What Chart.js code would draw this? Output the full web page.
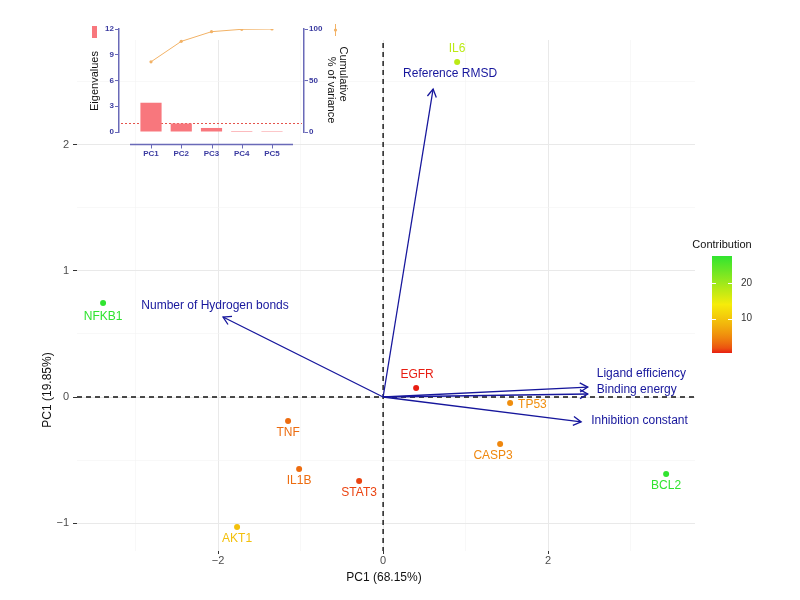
<!DOCTYPE html>
<html><head><meta charset="utf-8">
<script src="https://cdn.jsdelivr.net/npm/chart.js@4"></script>
<style>
html,body{margin:0;padding:0;background:#fff;}
#wrap{position:relative;width:800px;height:600px;overflow:hidden;}
#main{position:absolute;left:0;top:0;}
#inset{position:absolute;left:0;top:0;}
</style></head><body>
<div id="wrap"><canvas id="main" width="800" height="600"></canvas><canvas id="inset" width="360" height="170"></canvas></div>
<script>
// ---------- data: individuals (genes) ----------
const genes = ['IL6','NFKB1','EGFR','TP53','CASP3','BCL2','AKT1','TNF','IL1B','STAT3'];
const geneX = [0.897,-3.394,0.400,1.539,1.418,3.430,-1.770,-1.152,-1.018,-0.291];
const geneY = [2.659,0.746,0.071,-0.048,-0.373,-0.611,-1.032,-0.190,-0.571,-0.667];
const contribution = [17.9,27.5,0.4,5.3,4.8,27.4,9.5,3.1,3.1,1.2];
// ---------- data: variables (arrows) ----------
const variables = ['Reference RMSD','Number of Hydrogen bonds','Ligand efficiency','Binding energy','Inhibition constant'];
const varX = [0.606,-1.94,2.48,2.48,2.40];
const varY = [2.444,0.635,0.079,0.024,-0.198];
// ---------- ticks ----------
const xMajorTicks = [-2,0,2];
const xMinorTicks = [-3,-1,1,3];
const yMajorTicks = [-1,0,1,2];
const yMinorTicks = [-0.5,0.5,1.5,2.5];
const contributionTicks = [10,20];
const xTitle = 'PC1 (68.15%)';
const yTitle = 'PC1 (19.85%)';
const legendTitle = 'Contribution';
// ---------- data: scree inset ----------
const pcs = ['PC1','PC2','PC3','PC4','PC5'];
const eigenvalues = [3.41,0.99,0.47,0.12,0.01];
const cumulativeVariance = [68.15,88.0,97.4,99.7,100];
const eigenTicks = [0,3,6,9,12];
const cumulativeTicks = [0,50,100];
const kaiserLevel = 1;

// ---------- styles ----------
const F = '"Liberation Sans", Arial, Helvetica, sans-serif';
const NAVY = '#16169c';
const INSET_TXT = '#3a3aa0';
const INSET_AXIS = '#6a6ab8';
const lowC = [232,30,18], midC = [246,236,10], highC = [48,228,48];
const cMin = Math.min(...contribution), cMax = Math.max(...contribution);
function mix(a,b,t){return a.map((v,i)=>Math.round(v+(b[i]-v)*t));}
function colorAt(t){
  const c = t<0.5 ? mix(lowC,midC,Math.pow(t/0.5,0.6)) : mix(midC,highC,(t-0.5)/0.5);
  return 'rgb('+c.join(',')+')';
}
const gradColor = v => colorAt((v-cMin)/(cMax-cMin));
const pointColors = contribution.map(gradColor);
// label placement (pixel offsets, style only)
const geneLabelPlace = [[0,-13,'center'],[0,14,'center'],[1,-13,'center'],[8,2,'left'],[-7,12,'center'],[0,12,'center'],[0,12,'center'],[0,12,'center'],[0,12,'center'],[0,12,'center']];
const varLabelPlace = [[17,-15,'center'],[-8,-11,'center'],[9,-13,'left'],[9,-4,'left'],[10,-1,'left']];

const fmt = v => v<0 ? '\u2212'+Math.abs(v) : String(v);

function drawArrow(ctx,x0,y0,x1,y1){
  ctx.beginPath(); ctx.moveTo(x0,y0); ctx.lineTo(x1,y1); ctx.stroke();
  const a=Math.atan2(y1-y0,x1-x0), L=9, th=Math.PI/6;
  ctx.beginPath();
  ctx.moveTo(x1-L*Math.cos(a-th), y1-L*Math.sin(a-th));
  ctx.lineTo(x1,y1);
  ctx.lineTo(x1-L*Math.cos(a+th), y1-L*Math.sin(a+th));
  ctx.stroke();
}

const mainPlugin = {
  id:'biplot',
  beforeDatasetsDraw(chart){
    const {ctx, chartArea:a, scales:{x,y}} = chart;
    ctx.save();
    ctx.strokeStyle='#111'; ctx.lineWidth=1.4; ctx.setLineDash([5,4]);
    const y0=y.getPixelForValue(0), x0=x.getPixelForValue(0);
    ctx.beginPath(); ctx.moveTo(a.left,y0); ctx.lineTo(a.right,y0); ctx.stroke();
    ctx.beginPath(); ctx.moveTo(x0,a.top+3); ctx.lineTo(x0,a.bottom); ctx.stroke();
    ctx.restore();
  },
  afterDatasetsDraw(chart){
    const {ctx, chartArea:a, scales:{x,y}} = chart;
    ctx.save();
    const ox=x.getPixelForValue(0), oy=y.getPixelForValue(0);
    ctx.strokeStyle=NAVY; ctx.lineWidth=1.3; ctx.setLineDash([]);
    variables.forEach((v,i)=>{
      const tx=x.getPixelForValue(varX[i]), ty=y.getPixelForValue(varY[i]);
      drawArrow(ctx,ox,oy,tx,ty);
    });
    ctx.font='12px '+F; ctx.textBaseline='middle'; ctx.fillStyle=NAVY;
    variables.forEach((v,i)=>{
      const tx=x.getPixelForValue(varX[i]), ty=y.getPixelForValue(varY[i]);
      const p=varLabelPlace[i];
      ctx.textAlign=p[2]; ctx.fillText(v,tx+p[0],ty+p[1]);
    });
    genes.forEach((g,i)=>{
      const px=x.getPixelForValue(geneX[i]), py=y.getPixelForValue(geneY[i]);
      const p=geneLabelPlace[i];
      ctx.fillStyle=pointColors[i]; ctx.textAlign=p[2];
      ctx.fillText(g,px+p[0],py+p[1]);
    });
    ctx.fillStyle='#111'; ctx.font='12px '+F; ctx.textAlign='center';
    ctx.fillText(xTitle,384,578);
    ctx.save(); ctx.translate(48,390); ctx.rotate(-Math.PI/2); ctx.fillText(yTitle,0,0); ctx.restore();
    const bx=712,bw=20,bTop=256,bBot=353;
    const g=ctx.createLinearGradient(0,bBot,0,bTop);
    for(let k=0;k<=20;k++){ g.addColorStop(k/20, colorAt(k/20)); }
    ctx.fillStyle=g; ctx.fillRect(bx,bTop,bw,bBot-bTop);
    const cy = v => bBot-(v-cMin)/(cMax-cMin)*(bBot-bTop);
    ctx.strokeStyle='#fff'; ctx.lineWidth=1;
    ctx.font='10px '+F; ctx.fillStyle='#333'; ctx.textAlign='left'; ctx.textBaseline='middle';
    contributionTicks.forEach(t=>{
      const yy=Math.round(cy(t))+0.5;
      ctx.beginPath(); ctx.moveTo(bx,yy); ctx.lineTo(bx+4,yy); ctx.moveTo(bx+bw-4,yy); ctx.lineTo(bx+bw,yy); ctx.stroke();
      ctx.fillText(String(t),741,cy(t));
    });
    ctx.fillStyle='#111'; ctx.font='11px '+F; ctx.textAlign='center';
    ctx.fillText(legendTitle,722,245);
    ctx.restore();
  }
};

const isMajorX = v => xMajorTicks.includes(v);
const isMajorY = v => yMajorTicks.includes(v);

new Chart(document.getElementById('main'),{
  type:'scatter',
  data:{datasets:[{
    data: genes.map((g,i)=>({x:geneX[i],y:geneY[i]})),
    pointBackgroundColor: pointColors, pointBorderColor: pointColors,
    pointRadius:3, pointBorderWidth:0, showLine:false
  }]},
  options:{
    responsive:false, animation:false, devicePixelRatio:1,
    layout:{padding:{left:0,right:105,top:40,bottom:0}},
    plugins:{legend:{display:false}, tooltip:{enabled:false}},
    scales:{
      x:{type:'linear', min:-3.71, max:3.78,
        afterBuildTicks:s=>{s.ticks=[...xMinorTicks,...xMajorTicks].sort((a,b)=>a-b).map(v=>({value:v}));},
        afterFit:s=>{s.height=49;},
        border:{display:false},
        grid:{color:c=>isMajorX(c.tick.value)?'#e9e9e9':'#f3f3f3', lineWidth:c=>isMajorX(c.tick.value)?1:0.6,
              drawTicks:true, tickLength:3, tickColor:c=>isMajorX(c.tick.value)?'#333':'rgba(0,0,0,0)'},
        ticks:{autoSkip:false, maxRotation:0, padding:0, color:'#4d4d4d', font:{size:11,family:F},
               callback:v=>isMajorX(v)?fmt(v):''}
      },
      y:{type:'linear', min:-1.222, max:2.833,
        afterBuildTicks:s=>{s.ticks=[...yMinorTicks,...yMajorTicks].sort((a,b)=>a-b).map(v=>({value:v}));},
        afterFit:s=>{s.width=77;},
        border:{display:false},
        grid:{color:c=>isMajorY(c.tick.value)?'#e9e9e9':'#f3f3f3', lineWidth:c=>isMajorY(c.tick.value)?1:0.6,
              drawTicks:true, tickLength:4, tickColor:c=>isMajorY(c.tick.value)?'#333':'rgba(0,0,0,0)'},
        ticks:{autoSkip:false, padding:4, color:'#4d4d4d', font:{size:11,family:F},
               callback:v=>isMajorY(v)?fmt(v):''}
      }
    }
  },
  plugins:[mainPlugin]
});

// ---------- inset scree plot ----------
const insetPlugin = {
  id:'scree',
  beforeDatasetsDraw(chart){
    const {ctx, chartArea:a, scales:{y}} = chart;
    ctx.save();
    ctx.strokeStyle='#e5534b'; ctx.lineWidth=1; ctx.setLineDash([2,2]);
    const yy=Math.round(y.getPixelForValue(kaiserLevel))+0.5;
    ctx.beginPath(); ctx.moveTo(a.left+2,yy); ctx.lineTo(a.right-2,yy); ctx.stroke();
    ctx.restore();
  },
  afterDraw(chart){
    const {ctx, chartArea:a, scales:{x}} = chart;
    ctx.save();
    const ay=a.bottom+12.5;
    ctx.strokeStyle=INSET_AXIS; ctx.lineWidth=1.5;
    ctx.beginPath(); ctx.moveTo(130,ay); ctx.lineTo(293,ay); ctx.stroke();
    ctx.lineWidth=1;
    pcs.forEach((p,i)=>{
      const px=Math.round(x.getPixelForValue(i+1))+0.5;
      ctx.beginPath(); ctx.moveTo(px,ay); ctx.lineTo(px,ay+4); ctx.stroke();
    });
    ctx.fillStyle='#f8777d'; ctx.fillRect(92,26,5,12);
    ctx.strokeStyle='#f2b266'; ctx.lineWidth=1;
    ctx.beginPath(); ctx.moveTo(335.5,24); ctx.lineTo(335.5,36); ctx.stroke();
    ctx.fillStyle='#f2b266'; ctx.beginPath(); ctx.arc(335.5,30,1.6,0,Math.PI*2); ctx.fill();
    ctx.fillStyle='#111'; ctx.font='11px '+F; ctx.textAlign='center'; ctx.textBaseline='middle';
    ctx.save(); ctx.translate(95,81); ctx.rotate(-Math.PI/2); ctx.fillText('Eigenvalues',0,0); ctx.restore();
    ctx.save(); ctx.translate(343,74); ctx.rotate(Math.PI/2); ctx.fillText('Cumulative',0,0); ctx.restore();
    ctx.save(); ctx.translate(331,90); ctx.rotate(Math.PI/2); ctx.fillText('% of variance',0,0); ctx.restore();
    ctx.restore();
  }
};

new Chart(document.getElementById('inset'),{
  type:'bar',
  data:{datasets:[
    {type:'line', data: pcs.map((p,i)=>({x:i+1,y:cumulativeVariance[i]})), yAxisID:'y2',
     borderColor:'#f2b266', backgroundColor:'#f2b266', borderWidth:1, pointRadius:1.6, pointBorderWidth:0, order:0},
    {type:'bar', data: pcs.map((p,i)=>({x:i+1,y:eigenvalues[i]})), yAxisID:'y',
     backgroundColor:'#f8777d', barPercentage:0.7, categoryPercentage:1, order:1}
  ]},
  options:{
    responsive:false, animation:false, devicePixelRatio:1,
    layout:{padding:{left:0,right:0,top:29,bottom:0}},
    plugins:{legend:{display:false}, tooltip:{enabled:false}},
    scales:{
      x:{type:'linear', min:-0.058, max:6.058, offset:false,
        afterBuildTicks:s=>{s.ticks=pcs.map((p,i)=>({value:i+1}));},
        afterFit:s=>{s.height=38;},
        grid:{display:false}, border:{display:false},
        ticks:{autoSkip:false, maxRotation:0, padding:9, color:INSET_TXT, font:{size:8,family:F,weight:'bold'},
               callback:v=>pcs[v-1]}
      },
      y:{position:'left', min:0, max:12,
        afterBuildTicks:s=>{s.ticks=eigenTicks.map(v=>({value:v}));},
        afterFit:s=>{s.width=119;},
        grid:{drawOnChartArea:false, drawTicks:true, tickLength:4, tickColor:INSET_AXIS, lineWidth:1},
        border:{display:true, color:INSET_AXIS, width:1.5},
        ticks:{padding:1, color:INSET_TXT, font:{size:8,family:F,weight:'bold'}}
      },
      y2:{position:'right', min:0, max:100,
        afterBuildTicks:s=>{s.ticks=cumulativeTicks.map(v=>({value:v}));},
        afterFit:s=>{s.width=56;},
        grid:{drawOnChartArea:false, drawTicks:true, tickLength:4, tickColor:INSET_AXIS, lineWidth:1},
        border:{display:true, color:INSET_AXIS, width:1.5},
        ticks:{padding:1, color:INSET_TXT, font:{size:8,family:F,weight:'bold'}}
      }
    }
  },
  plugins:[insetPlugin]
});
</script>
</body></html>
